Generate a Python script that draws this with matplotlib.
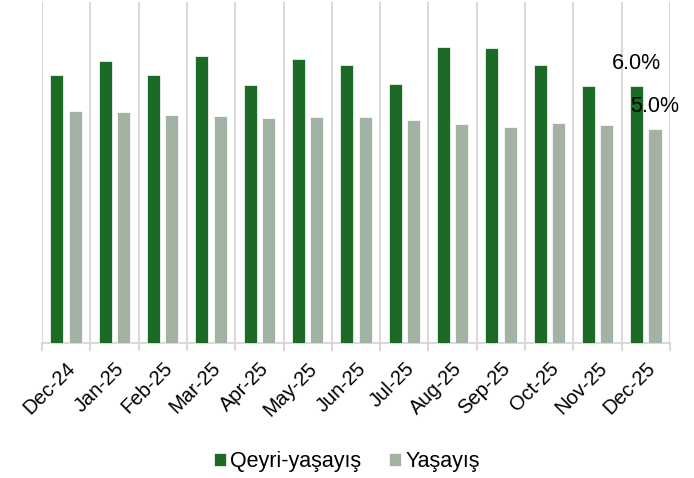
import matplotlib.pyplot as plt
import numpy as np

plt.rcParams['font.family'] = ['Liberation Sans', 'DejaVu Sans']

# --- data ---
months = ["Dec-24", "Jan-25", "Feb-25", "Mar-25", "Apr-25", "May-25", "Jun-25",
          "Jul-25", "Aug-25", "Sep-25", "Oct-25", "Nov-25", "Dec-25"]
qeyri_yasayis = [6.26, 6.59, 6.25, 6.71, 6.03, 6.63, 6.48, 6.04, 6.90, 6.89, 6.49, 6.00, 6.0]
yasayis = [5.41, 5.39, 5.33, 5.30, 5.25, 5.27, 5.27, 5.21, 5.11, 5.05, 5.14, 5.10, 5.0]

green = '#1b6a25'
grey = '#a3b3a3'
gridc = '#d9d9d9'

x = np.arange(len(months))
w = 0.27
off = 0.19

fig = plt.figure(figsize=(6.94, 4.78), dpi=100)
ax = fig.add_axes([0.0605, 0.2814, 0.9049, 0.7144])

b1 = ax.bar(x - off, qeyri_yasayis, w, color=green, edgecolor='white', linewidth=0.5,
            label='Qeyri-yaşayış', zorder=3)
b2 = ax.bar(x + off, yasayis, w, color=grey, edgecolor='white', linewidth=0.5,
            label='Yaşayış', zorder=3)

# labels only on the last month
ax.annotate(f"{qeyri_yasayis[-1]:.1f}%", (x[-1] - off, qeyri_yasayis[-1]),
            xytext=(0, 16.5), textcoords='offset points', ha='center', va='center',
            fontsize=15.5, color='black', zorder=5)
ax.annotate(f"{yasayis[-1]:.1f}%", (x[-1] + off, yasayis[-1]),
            xytext=(0, 16.5), textcoords='offset points', ha='center', va='center',
            fontsize=15.5, color='black', zorder=5)

ax.set_xlim(-0.5, len(months) - 0.5)
ax.set_ylim(0, 7.96)

# category boundary grid + tick marks
ax.set_xticks(np.arange(-0.5, len(months)), minor=True)
ax.set_xticks(x)
ax.set_xticklabels(months, rotation=45, ha='right', rotation_mode='anchor', fontsize=14.5)
ax.tick_params(axis='x', which='major', length=0, pad=11)
ax.tick_params(axis='x', which='minor', length=6, width=1.5, color=gridc)
ax.grid(True, axis='x', which='minor', color=gridc, linewidth=1.5, zorder=0)
ax.set_yticks([])

for s in ['top', 'right', 'left']:
    ax.spines[s].set_visible(False)
ax.spines['bottom'].set_color(gridc)
ax.spines['bottom'].set_linewidth(1.5)

fig.legend(handles=[b1, b2], loc='center', bbox_to_anchor=(0.5, 1 - 462 / 478),
           ncol=2, frameon=False, fontsize=15.5, handlelength=0.55, handleheight=0.55,
           handletextpad=0.2, columnspacing=1.3)

plt.savefig('out.png', dpi=100)
plt.close()
